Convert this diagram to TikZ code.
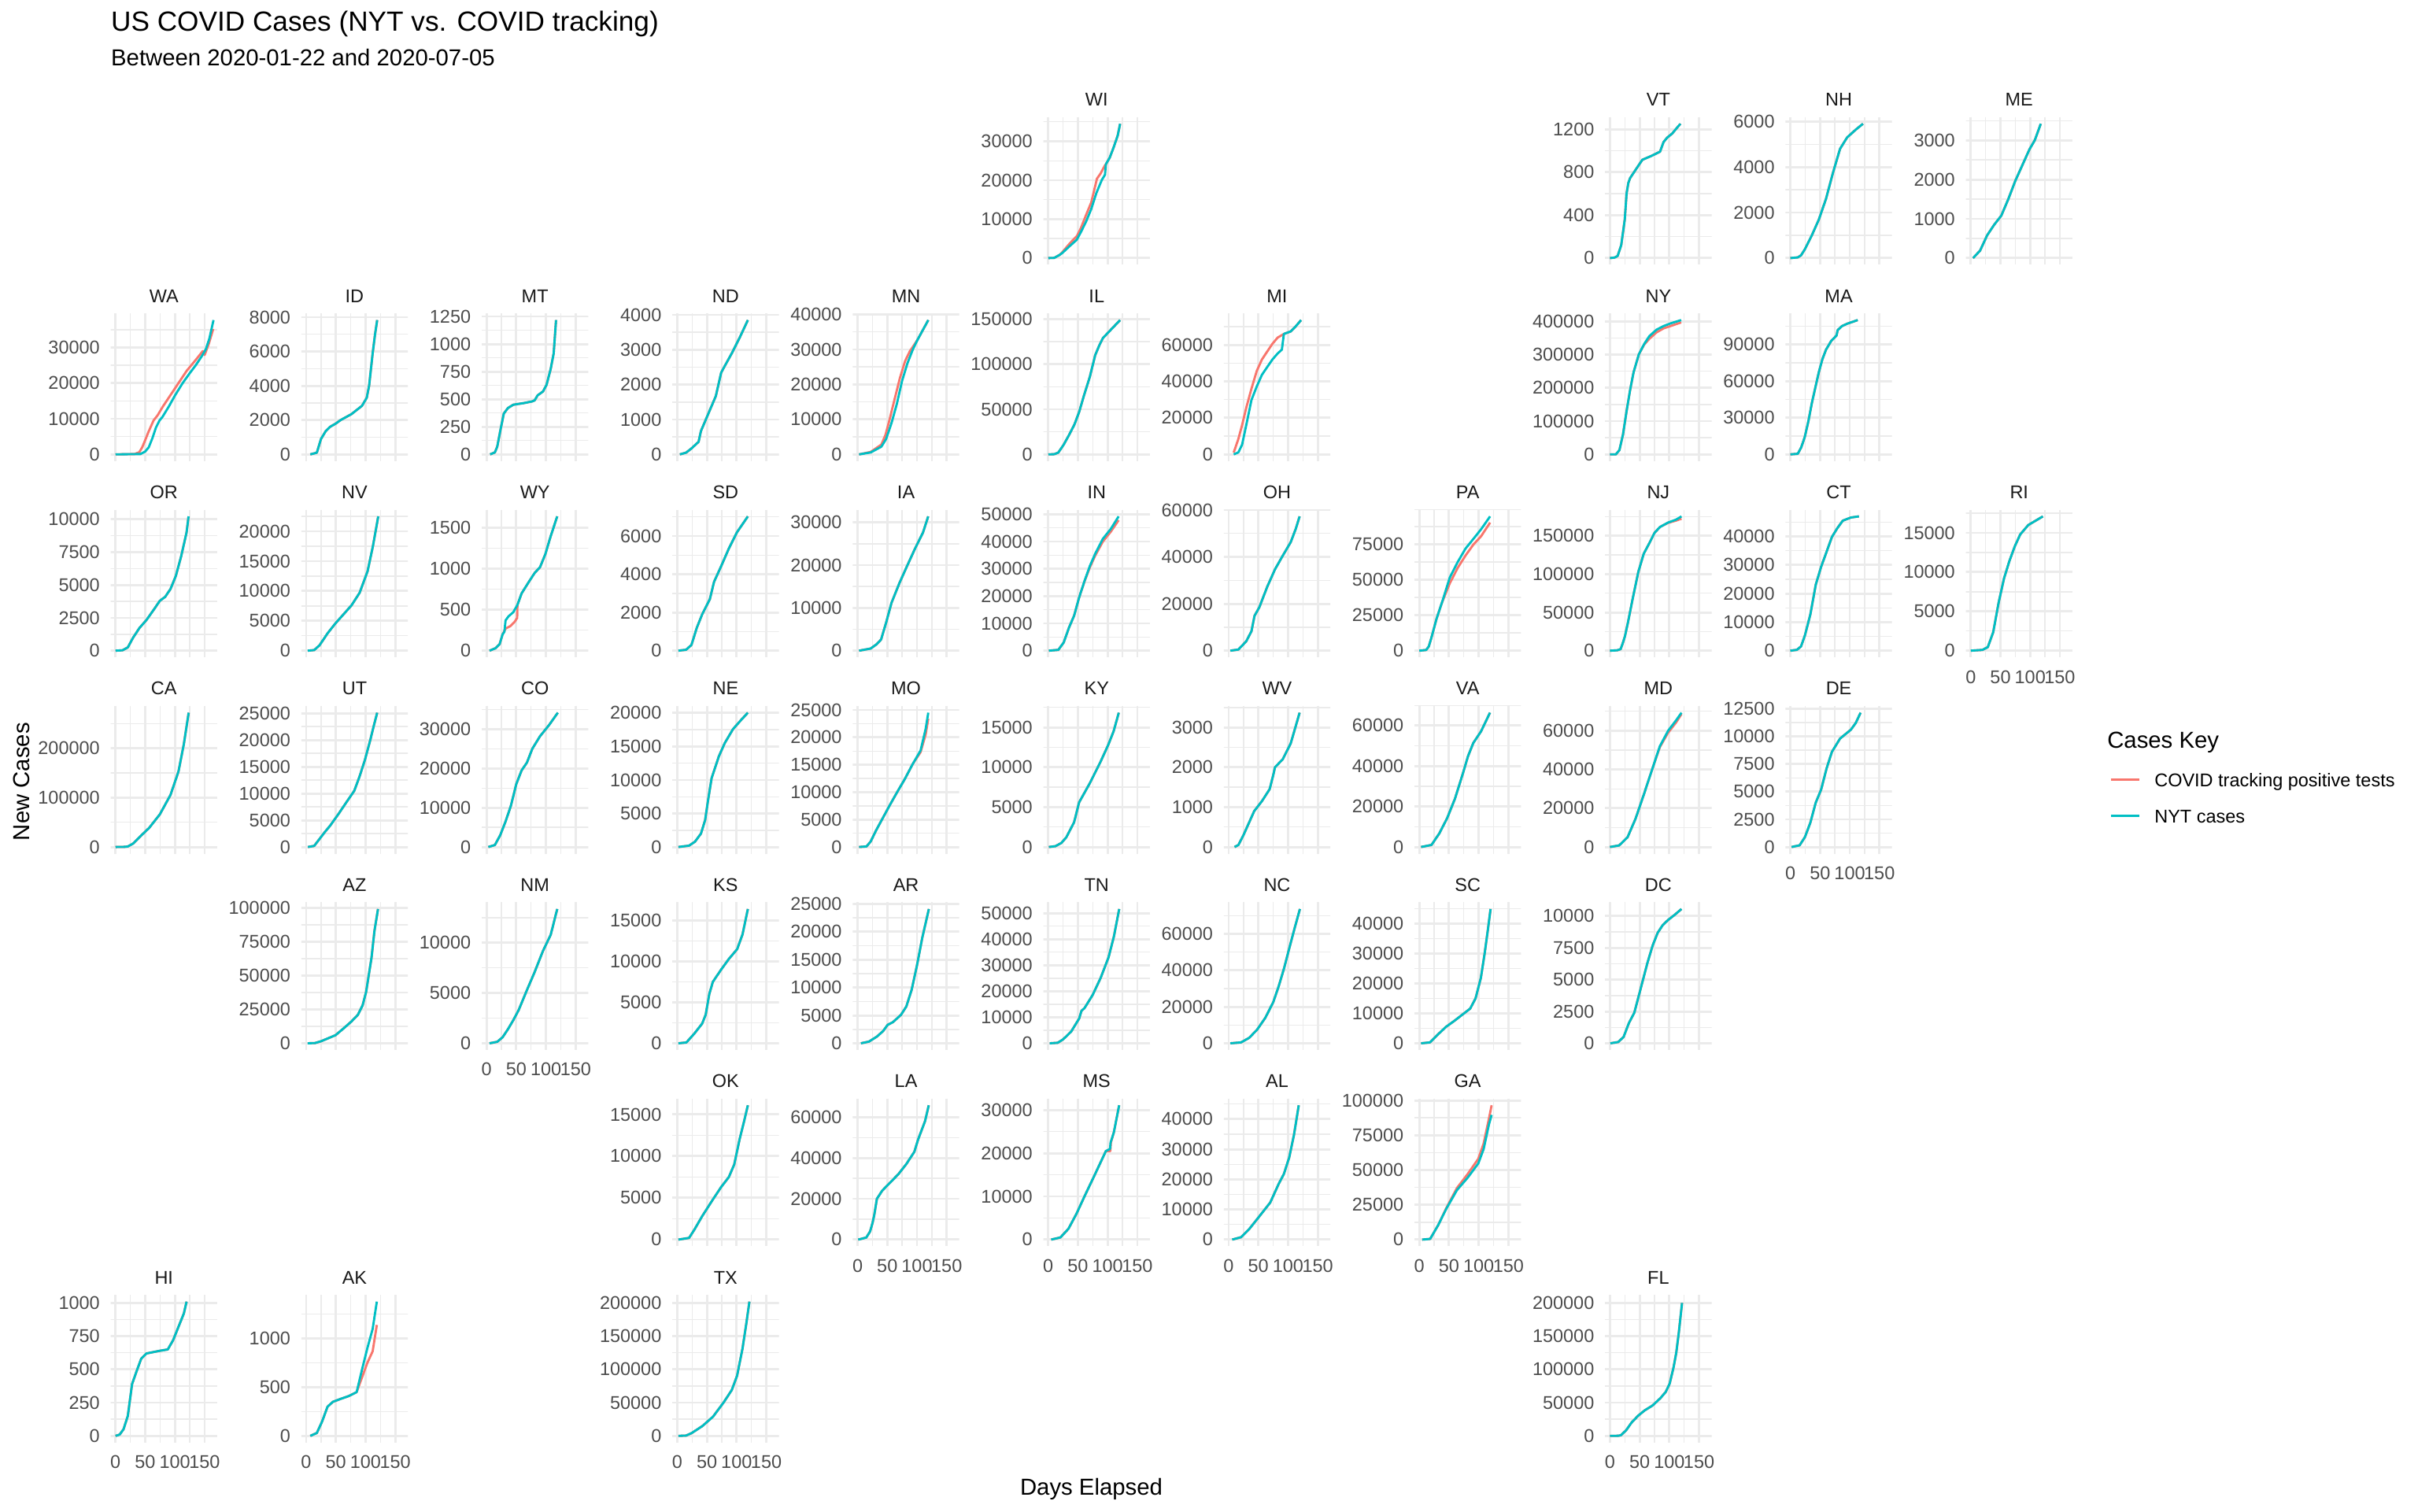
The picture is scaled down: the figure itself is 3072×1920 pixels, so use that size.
\documentclass[tikz,border=0pt]{standalone}
\usepackage{fontspec}
\setmainfont{Liberation Sans}
\definecolor{gridc}{HTML}{EBEBEB}
\definecolor{tealc}{HTML}{00BFC4}
\definecolor{redc}{HTML}{F8766D}
\definecolor{axtext}{HTML}{4D4D4D}
\definecolor{striptext}{HTML}{1A1A1A}
\tikzset{
 majorgrid/.style={draw=gridc, line width=1.07bp},
 minorgrid/.style={draw=gridc, line width=0.53bp},
 redline/.style={draw=redc, line width=1.07bp, line join=round},
 tealline/.style={draw=tealc, line width=1.07bp, line join=round},
 ylab/.style={anchor=east, inner sep=0pt, text=axtext, font=\fontsize{8.8bp}{10bp}\selectfont, xshift=-5bp},
 xlab/.style={anchor=base, inner sep=0pt, text=axtext, font=\fontsize{8.8bp}{10bp}\selectfont, yshift=-15.5bp},
 striplab/.style={anchor=base, inner sep=0pt, text=striptext, font=\fontsize{8.8bp}{10bp}\selectfont},
}
\newcommand{\stp}[9]{%
 \edef\Lx{\ifcase#1 140.6\or 382.8\or 612.0\or 854.2\or 1083.4\or 1325.6\or 1554.8\or 1797.0\or 2039.2\or 2268.4\or 2497.6\fi}%
 \pgfmathsetmacro\Ty{148.7+249.4*#2}%
 \begin{scope}[shift={(\Lx,\Ty)}]
  \begin{scope}
   \clip (0,0) rectangle (135.3,187.7);
   \foreach \d in {25,75,125} \draw[minorgrid] ({6.15+0.7546*\d},0) -- ++(0,187.7);
   \begin{scope}[shift={(6.15,179.17)},xscale=0.7546,yscale={-170.64/#4}]
     \foreach \k in {-1,...,8} \draw[minorgrid] (-20,{(\k+0.5)*#5}) -- (200,{(\k+0.5)*#5});
     \foreach \k in {0,...,8} \draw[majorgrid] (-20,{\k*#5}) -- (200,{\k*#5});
   \end{scope}
   \foreach \d in {0,50,100,150} \draw[majorgrid] ({6.15+0.7546*\d},0) -- ++(0,187.7);
  \end{scope}
  \node[striplab] at (67.65,-14) {#3};
  \begin{scope}[shift={(6.15,179.17)},xscale=0.7546,yscale={-170.64/#4}]
    \foreach \lab [count=\k from 0] in {#6} \node[ylab] at (-8.15,{\k*#5}) {\lab};
    \ifnum#7=1 \foreach \d in {0,50,100,150} \node[xlab] at (\d,0) {\d}; \fi
    \def\tmpred{#9}%
    \ifx\tmpred\empty \draw[redline] plot coordinates {#8}; \else \draw[redline] plot coordinates {#9}; \fi
    \draw[tealline] plot coordinates {#8};
  \end{scope}
 \end{scope}}
\begin{document}
\begin{tikzpicture}[x=0.375bp,y=-0.375bp]
\fill[white] (0,0) rectangle (3072,1920);
\useasboundingbox (0,0) rectangle (3072,1920);
\node[anchor=base west, inner sep=0pt, font=\fontsize{13.2bp}{15bp}\selectfont] (title) at (140.6,39.5) {US COVID Cases (NYT vs. COVID tracking)};
\node[anchor=base west, inner sep=0pt, font=\fontsize{11bp}{13bp}\selectfont] (subtitle) at (140.6,83) {Between 2020-01-22 and 2020-07-05};
% row 0
\stp{5}{0}{WI}{34.5}{10}{0,10000,20000,30000}{0}{(0,0) (10,0.05) (19,0.8) (23.6,1.3) (37,3.2) (48,4.7) (54.7,6.6) (63.5,9.3) (72.4,12.6) (81,16.7) (90,20) (95.5,21.4) (97,24.1) (103.5,25.8) (110,28.4) (117,31.5) (121,34.5)}{(0,0) (10,0.05) (19,0.8) (23.6,1.5) (37,3.9) (48,5.6) (54.7,7.6) (63.5,11) (72.4,14.3) (82,20.4) (88,21.7) (95,23.7) (97,24.1) (103.5,25.8) (110,28.4) (117,31.5) (121,34.5)}
\stp{8}{0}{VT}{1.25}{0.4}{0,400,800,1200}{0}{(0,0) (8,0.005) (13,0.02) (19,0.12) (22,0.24) (25,0.36) (28,0.6) (31,0.7) (34,0.745) (43,0.82) (54.6,0.915) (69.5,0.95) (84.3,0.99) (90.3,1.08) (96.2,1.12) (105,1.16) (114,1.22) (118.8,1.25)}{}
\stp{9}{0}{NH}{5.9}{2}{0,2000,4000,6000}{0}{(0,0) (12.5,0.03) (18,0.12) (24.3,0.38) (36.2,1.0) (48.1,1.7) (60,2.6) (71.9,3.76) (83.7,4.8) (95.6,5.3) (110.5,5.65) (122.3,5.9)}{}
\stp{10}{0}{ME}{3.42}{1}{0,1000,2000,3000}{0}{(3.9,0) (15.7,0.19) (27.6,0.58) (39.5,0.85) (51.4,1.08) (63.2,1.5) (75.1,1.97) (87,2.37) (98.9,2.77) (107.8,3.0) (117.9,3.42)}{}
% row 1
\stp{0}{1}{WA}{37.7}{10}{0,10000,20000,30000}{0}{(0,0) (42,0.1) (50,0.8) (56,2) (62,4.5) (68,7.5) (74,9.5) (79,10.5) (90,13.5) (100,16.5) (113,20) (125,22.8) (135,25) (145,27.5) (152,29.5) (158,32.5) (165,37.7)}{(0,0) (32,0.1) (40,0.6) (45,2) (50,4) (56,6.5) (64,9.5) (71,11) (80,13.5) (90,16) (106,20) (120,23.5) (135,26.5) (147,29) (150,27.9) (157,31) (164.5,35.2)}
\stp{1}{1}{ID}{7.83}{2}{0,2000,4000,6000,8000}{0}{(7,0) (18,0.1) (25,0.9) (28,1.07) (33,1.36) (40,1.6) (50,1.8) (58,2.0) (76,2.34) (94,2.83) (102,3.3) (106,4.0) (112,5.9) (116,7.0) (119.6,7.83)}{}
\stp{2}{1}{MT}{1.217}{0.25}{0,250,500,750,1000,1250}{0}{(6,0) (14,0.018) (18,0.07) (23,0.21) (29,0.37) (36,0.42) (45,0.45) (63,0.465) (77,0.48) (81,0.49) (86,0.535) (95,0.57) (101,0.63) (108,0.775) (113,0.915) (117,1.217)}{}
\stp{3}{1}{ND}{3.85}{1}{0,1000,2000,3000,4000}{0}{(4.5,0) (15,0.05) (24,0.17) (36,0.36) (40,0.67) (51,1.11) (65,1.67) (74,2.34) (78,2.47) (92,2.9) (105,3.34) (119,3.85)}{}
\stp{4}{1}{MN}{38.4}{10}{0,10000,20000,30000,40000}{0}{(2.5,0) (22,0.55) (40,2.2) (48,4.4) (57,8.9) (66,14.4) (75,21.1) (84,26.1) (93,30) (101,32.8) (110,35.6) (119,38.4)}{(2.5,0) (22,0.7) (40,2.8) (47,5.6) (53,9.4) (62,15.6) (71,21.7) (80,26.7) (88,29.5) (96,31.5) (101,32.8) (110,35.6) (119,38.4)}
\stp{5}{1}{IL}{149}{50}{0,50000,100000,150000}{0}{(0,0) (10,0.2) (17,2) (26,10.8) (35,21.5) (44,33) (52,47) (60,65) (70,86) (79,110) (86,121) (92,129) (105,138) (121,149)}{}
\stp{6}{1}{MI}{73.6}{20}{0,20000,40000,60000}{0}{(8.5,0) (16.4,1.1) (22.6,5.3) (29.6,16) (38.4,29.8) (47.3,37.2) (56,43.6) (65,47.9) (73.7,52) (82.5,55.3) (89.6,57.4) (93,66) (104.6,67.4) (113,70.2) (122,73.6)}{(8.5,1) (16.4,8.5) (22.6,16) (29.6,25.5) (38.4,36) (47.3,45.7) (56,52) (65,56.4) (73.7,60.6) (82.5,64) (93,66) (104.6,67.4) (113,70.2) (122,73.6)}
\stp{8}{1}{NY}{404}{100}{0,100000,200000,300000,400000}{0}{(0,0) (10,0.1) (16,13) (22,60) (28,130) (33.8,192) (39.8,247) (48.7,301) (57.6,332) (66.5,356) (78.4,375) (90.3,386) (102,394) (120,404)}{(0,0) (10,0.1) (16,13) (22,60) (28,130) (33.8,192) (39.8,247) (48.7,301) (57.6,330) (66.5,348) (78.4,367) (90.3,379) (102,386) (120,397)}
\stp{9}{1}{MA}{110}{30}{0,30000,60000,90000}{0}{(0,0) (12.5,0.5) (18.4,5.8) (24.3,14.3) (30.3,27) (36.2,42) (42.2,55) (48.1,67.6) (54,78) (60,85.7) (68.9,93) (77.8,97.4) (79.6,101.7) (86.7,105) (95.6,107) (113.4,110)}{}
% row 2
\stp{0}{2}{OR}{10.23}{2.5}{0,2500,5000,7500,10000}{0}{(0,0) (11.7,0.03) (20.7,0.25) (29.7,1.0) (40.5,1.74) (52,2.33) (65.6,3.2) (74.6,3.8) (83.6,4.1) (92.6,4.7) (101.6,5.7) (110.6,7.2) (119.6,9.0) (123,10.23)}{}
\stp{1}{2}{NV}{22.5}{5}{0,5000,10000,15000,20000}{0}{(2.7,0) (13.5,0.1) (22.5,0.9) (36,2.9) (49.5,4.6) (63,6.1) (76.4,7.6) (90,9.7) (103.4,13.3) (112.4,17.5) (121.4,22.5)}{}
\stp{2}{2}{WY}{1.641}{0.5}{0,500,1000,1500}{0}{(5,0) (15,0.03) (22,0.08) (27,0.2) (30,0.23) (32,0.37) (37,0.42) (45,0.47) (52,0.56) (59,0.7) (72,0.85) (81,0.95) (90,1.02) (99,1.18) (108,1.4) (119,1.641)}{(5,0) (15,0.03) (22,0.08) (27,0.2) (32,0.27) (40,0.3) (47,0.35) (51.5,0.4) (52,0.56) (59,0.7) (72,0.85) (81,0.95) (90,1.02) (99,1.18) (108,1.4) (119,1.641)}
\stp{3}{2}{SD}{7.03}{2}{0,2000,4000,6000}{0}{(2,0) (15,0.05) (24,0.3) (33,1.2) (42,1.9) (55,2.7) (62,3.6) (73.7,4.4) (87,5.35) (100.7,6.2) (119,7.03)}{}
\stp{4}{2}{IA}{31.4}{10}{0,10000,20000,30000}{0}{(2.5,0) (21.9,0.5) (32,1.5) (39.5,2.6) (48.3,6.7) (57.1,11.2) (70.4,15.8) (83.6,19.9) (96.8,23.9) (110,27.6) (118.9,31.4)}{}
\stp{5}{2}{IN}{49.2}{10}{0,10000,20000,30000,40000,50000}{0}{(1,0) (17,0.3) (26,3) (35,8.5) (43.5,12.8) (52,19.5) (61,25.5) (70,31) (79,35.5) (92,41) (105,44.5) (118.5,49.2)}{(1,0) (17,0.3) (26,3) (35,8.5) (43.5,12.8) (52,19.5) (61,25.3) (70,30.5) (79,34.8) (92,40) (105,43.5) (118.5,47.8)}
\stp{6}{2}{OH}{57.3}{20}{0,20000,40000,60000}{0}{(3,0) (16.4,0.5) (29.6,4) (38.4,8.3) (43.6,14.9) (51.6,18.5) (65,27.3) (78,34.7) (91,40.5) (104.5,46.3) (113,52) (119.5,57.3)}{}
\stp{7}{2}{PA}{94.6}{25}{0,25000,50000,75000}{0}{(0,0) (11.6,0.5) (16,3) (20.5,9.3) (29.3,22.9) (38.1,33.8) (51.3,51.5) (64.6,62.4) (77.8,71.9) (91,78.7) (104.2,85.6) (119.2,94.6)}{(0,0) (11.6,0.5) (16,3) (20.5,9.3) (29.3,22.9) (38.1,33.8) (51.3,47.4) (64.6,58.3) (77.8,67) (91,74.7) (104.2,80.7) (119.2,90.2)}
\stp{8}{2}{NJ}{175.5}{50}{0,50000,100000,150000}{0}{(0,0) (12,0.5) (18,2) (21,8.5) (25,18) (30,35.7) (39,70.5) (47.8,103) (56.9,126.7) (66,140) (75,153.9) (84.2,161.6) (97.8,167.4) (111.5,171.3) (120.5,175.5)}{(0,0) (12,0.5) (18,2) (21,8.5) (25,18) (30,35.7) (39,70.5) (47.8,103) (56.9,126.7) (66,140) (75,153.9) (84.2,161.6) (97.8,167) (111.5,170) (120.5,172.5)}
\stp{9}{2}{CT}{47}{10}{0,10000,20000,30000,40000}{0}{(0,0) (11,0.3) (18,1.5) (24.6,5.4) (33.7,12.7) (42.8,23.1) (51.9,29.4) (61,34.6) (70,39.8) (79.2,42.9) (88.3,45.5) (102,46.6) (115.5,47)}{}
\stp{10}{2}{RI}{17.1}{5}{0,5000,10000,15000}{1}{(0,0) (19.6,0.1) (28.7,0.45) (37.8,2.35) (46.9,6.1) (56,9.2) (65,11.4) (74.2,13.3) (83.3,14.8) (96.9,16.0) (121.5,17.1)}{}
% row 3
\stp{0}{3}{CA}{272}{100}{0,100000,200000}{0}{(0,0) (15,0.3) (20.7,1) (29.7,7) (43,23) (56.6,38.6) (74.6,66) (92.6,105.5) (106,152.8) (115,208) (123.2,272)}{}
\stp{1}{3}{UT}{25.1}{5}{0,5000,10000,15000,20000,25000}{0}{(3,0) (13.5,0.2) (22.5,1.5) (31.5,2.8) (40.5,4) (54,6.1) (67.4,8.3) (81,10.5) (90,13.2) (99,16.3) (108,20) (112.4,22) (119.6,25.1)}{}
\stp{2}{3}{CO}{34.2}{10}{0,10000,20000,30000}{0}{(3,0) (14,0.5) (23,3) (32,6.5) (41,10.5) (50,16) (59,19.5) (68,21.5) (77,25) (90,28.2) (105,31) (120,34.2)}{}
\stp{3}{3}{NE}{20.05}{5}{0,5000,10000,15000,20000}{0}{(2,0) (20,0.2) (30,0.8) (40,2) (47,4) (52,7) (58,10.3) (70,13.5) (80,15.5) (94,17.6) (108,19) (119,20.05)}{}
\stp{4}{3}{MO}{24.5}{5}{0,5000,10000,15000,20000,25000}{0}{(2.5,0) (15,0.1) (22,1) (31,3) (40,4.8) (53,7.4) (66,9.9) (79,12.3) (92.6,15.1) (106,17.6) (114.5,21.5) (119,24.5)}{(2.5,0) (15,0.1) (22,1) (31,3) (40,4.8) (53,7.4) (66,9.9) (79,12.3) (92.6,15.1) (106,17.3) (114.5,20.5) (119,23.4)}
\stp{5}{3}{KY}{16.84}{5}{0,5000,10000,15000}{0}{(1,0) (12,0.1) (22,0.5) (30.3,1.2) (43.5,3.1) (52,5.6) (70,8) (87.5,10.6) (101,12.8) (110,14.5) (118.8,16.84)}{}
\stp{6}{3}{WV}{3.37}{1}{0,1000,2000,3000}{0}{(10,0) (16.4,0.05) (25,0.3) (34,0.6) (43,0.9) (56,1.15) (69,1.45) (75,1.8) (78,2.0) (91,2.2) (104.5,2.6) (119.5,3.37)}{}
\stp{7}{3}{VA}{66.3}{20}{0,20000,40000,60000}{0}{(3,0) (20.5,1) (33.7,6.7) (47,14.3) (60,23.8) (73.3,36.2) (82,44.8) (91,51.4) (104,57.1) (119,66.3)}{}
\stp{8}{3}{MD}{69.3}{20}{0,20000,40000,60000}{0}{(0,0) (15.5,0.8) (29.6,5) (43,14.5) (57,27) (70.5,39.5) (84,52) (98,60) (111.5,65.4) (120.5,69.3)}{(0,0) (15.5,0.8) (29.6,5) (43,14.5) (57,27) (70.5,39.5) (84,51.5) (98,59) (111.5,64.3) (120.5,68.6)}
\stp{9}{3}{DE}{12.14}{2.5}{0,2500,5000,7500,10000,12500}{1}{(2,0) (15.6,0.15) (24.6,0.9) (33.7,2.2) (42.7,4) (51.9,5.2) (61,7.1) (70,8.6) (83.7,9.8) (101.9,10.6) (110,11.2) (118.3,12.14)}{}
% row 4
\stp{1}{4}{AZ}{99.2}{25}{0,25000,50000,75000,100000}{0}{(2.5,0) (15,0.2) (25,1.5) (36,3.5) (49.5,6) (63,11) (76,16) (87,21) (95,28) (101,38) (106,52) (110,63) (115,83) (121,99.2)}{}
\stp{2}{4}{NM}{13.37}{5}{0,5000,10000}{1}{(5,0) (18,0.15) (27,0.6) (36,1.4) (45,2.3) (54,3.3) (68,5.3) (81,7.1) (95,9.2) (108,10.8) (119,13.37)}{}
\stp{3}{4}{KS}{16.4}{5}{0,5000,10000,15000}{0}{(2,0) (15.5,0.1) (29,1.2) (42,2.4) (48,3.5) (54,6) (60,7.5) (74,9) (87,10.3) (101,11.5) (110,13.3) (119,16.4)}{}
\stp{4}{4}{AR}{24.1}{5}{0,5000,10000,15000,20000,25000}{0}{(5.6,0) (19,0.3) (32.5,1.2) (43,2.2) (50.5,3.3) (59.5,3.8) (73,5.1) (82,6.6) (91,9.6) (100,14) (109,19) (120,24.1)}{}
\stp{5}{4}{TN}{51.6}{10}{0,10000,20000,30000,40000,50000}{0}{(2.5,0) (16,0.2) (25,1.5) (38.6,4.5) (52,9.5) (56,12.5) (61,13.5) (74.6,18.5) (88,25) (101.5,33) (110.5,41) (119.5,51.6)}{}
\stp{6}{4}{NC}{73.6}{20}{0,20000,40000,60000}{0}{(3,0) (21,0.5) (34.6,3) (48,7.5) (61.8,14) (75,22.5) (84,31) (93.2,41) (102,52) (111,63) (120,73.6)}{}
\stp{7}{4}{SC}{44.9}{10}{0,10000,20000,30000,40000}{0}{(3,0) (18,0.3) (31.6,3) (45,5.5) (59,7.5) (72,9.5) (85.7,11.6) (94.7,15) (103.7,21.9) (110,30) (115.5,38) (120,44.9)}{}
\stp{8}{4}{DC}{10.56}{2.5}{0,2500,5000,7500,10000}{0}{(0.7,0) (14,0.1) (23,0.5) (32,1.6) (41,2.4) (49.5,3.9) (54,4.7) (63,6.3) (72,7.7) (80.5,8.7) (89,9.3) (98,9.7) (109,10.1) (120.5,10.56)}{}
% row 5
\stp{3}{5}{OK}{16.1}{5}{0,5000,10000,15000}{0}{(2,0) (20,0.2) (29,1.2) (42,2.8) (60,4.8) (74,6.3) (87,7.5) (96,9) (105,12) (112,14) (119,16.1)}{}
\stp{4}{5}{LA}{65.8}{20}{0,20000,40000,60000}{1}{(1,0) (14.6,1) (21,4) (25,8) (28,12) (32.5,20) (41.5,24) (55,28) (68.5,32) (82,37) (95.5,43) (101.8,49) (113.5,58) (119.8,65.8)}{}
\stp{5}{5}{MS}{31.1}{10}{0,10000,20000,30000}{1}{(5,0) (20.5,0.5) (34,2.5) (47.6,6) (61,10) (79,15.2) (97,20.5) (104,21) (105,22.5) (110.4,24.8) (119.4,31.1)}{(5,0) (20.5,0.5) (34,2.5) (47.6,6) (61,10) (79,15.2) (97,20.5) (104.5,20.5) (105.5,22.5) (110.4,24.8) (119.4,31.1)}
\stp{6}{5}{AL}{44.6}{10}{0,10000,20000,30000,40000}{1}{(6,0) (21,0.8) (34.6,3.5) (48,6.8) (70,12.3) (84,18.4) (93,21.8) (102,27.3) (110,34.8) (118,44.6)}{}
\stp{7}{5}{GA}{96.5}{25}{0,25000,50000,75000,100000}{1}{(4.9,0) (18.3,0.5) (31.8,10.4) (45.3,22) (63.3,35.5) (81.3,44.4) (99.3,54.7) (108.3,65) (117.3,82.8) (121.8,89.6)}{(4.9,0) (18.3,0.5) (31.8,10.4) (45.3,22.5) (63.3,37) (81.3,47) (99.3,58) (108.3,69) (117.3,87) (121.8,96.5)}
% row 6
\stp{0}{6}{HI}{1.01}{0.25}{0,250,500,750,1000}{1}{(0,0) (7,0.01) (13.5,0.05) (20.7,0.15) (27.9,0.39) (35,0.48) (43.2,0.58) (52.2,0.62) (74.6,0.64) (88,0.65) (97,0.72) (106,0.82) (115,0.92) (119.7,1.01)}{}
\stp{1}{6}{AK}{1.38}{0.5}{0,500,1000}{1}{(7,0) (18,0.03) (27,0.15) (36,0.3) (45,0.35) (58,0.38) (72,0.41) (85,0.45) (94,0.68) (103,0.9) (112,1.1) (119,1.38)}{(7,0) (18,0.03) (27,0.15) (36,0.3) (45,0.35) (58,0.38) (72,0.41) (85,0.45) (94,0.6) (103,0.75) (112,0.87) (119,1.14)}
\stp{3}{6}{TX}{202}{50}{0,50000,100000,150000,200000}{1}{(2,0) (15,0.5) (24.5,4.3) (42.4,14.8) (60.4,29) (78.4,50.6) (91.9,69) (100.9,90.7) (109.9,131) (116.2,168) (121.6,202)}{}
\stp{8}{6}{FL}{202}{50}{0,50000,100000,150000,200000}{1}{(0,0) (14,0.2) (18.5,1) (27.4,8.6) (36.2,19.8) (47.3,30.2) (58.4,38.3) (71.7,45.7) (85,56.8) (93.8,66) (100.5,78.4) (107.1,103) (111.6,124.7) (116,155.6) (121.4,200)}{}
% axis titles
\node[anchor=base, inner sep=0pt, rotate=90, font=\fontsize{11bp}{13bp}\selectfont] (ytitle) at (37,993) {New Cases};
\node[anchor=base, inner sep=0pt, font=\fontsize{11bp}{13bp}\selectfont] (xtitle) at (1386.5,1899) {Days Elapsed};
% legend
\node[anchor=base west, inner sep=0pt, font=\fontsize{11bp}{13bp}\selectfont] (legtitle) at (2676.7,950.5) {Cases Key};
\coordinate (k1a) at (2681.5,990.3);
\coordinate (k1b) at (2717.7,990.3);
\coordinate (k2a) at (2681.5,1036.2);
\coordinate (k2b) at (2717.7,1036.2);
\draw[redline] (k1a) -- (k1b);
\draw[tealline] (k2a) -- (k2b);
\node[anchor=base west, inner sep=0pt, font=\fontsize{8.8bp}{10bp}\selectfont] (leg1) at (2736.8,999.5) {COVID tracking positive tests};
\node[anchor=base west, inner sep=0pt, font=\fontsize{8.8bp}{10bp}\selectfont] (leg2) at (2736.8,1045.2) {NYT cases};
\end{tikzpicture}
\end{document}
